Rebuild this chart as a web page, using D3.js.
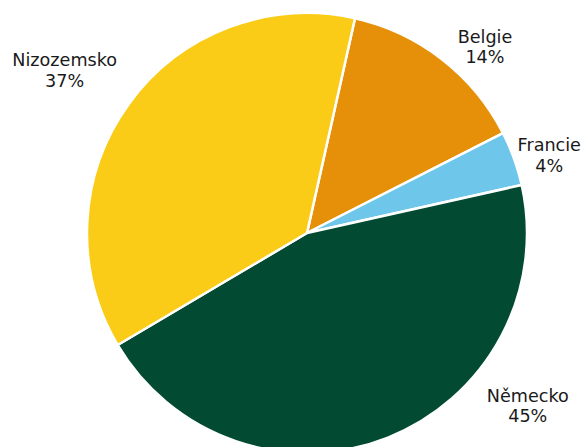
<!DOCTYPE html>
<html>
<head>
<meta charset="utf-8">
<script src="https://cdn.jsdelivr.net/npm/d3@7"></script>
<style>
  html, body { margin: 0; padding: 0; background: #fff; }
  svg text { font-family: "DejaVu Sans", Verdana, sans-serif; font-size: 17.6px; fill: #1a1a1a; }
</style>
</head>
<body>
<svg id="chart"></svg>
<script>
const countries = ['Belgie', 'Francie', 'Německo', 'Nizozemsko'];
const shares = [14, 4, 45, 37];
const colors = ['#E59008', '#6EC6EA', '#034A32', '#FBCC17'];

const width = 584;
const height = 447;
const cx = 307;
const cy = 233;
const radius = 220;

// where the labels sit: angle shift from slice middle (deg) and distance from centre
const labelShift = [5.6, 1.6, -30.7, -1.8];
const labelRadius = [259, 255, 279, 293];

const svg = d3.select('#chart')
  .attr('width', width)
  .attr('height', height);

const g = svg.append('g').attr('transform', `translate(${cx},${cy})`);

const pie = d3.pie()
  .sort(null)
  .value(d => d)
  .startAngle(12.6 * Math.PI / 180)
  .endAngle(12.6 * Math.PI / 180 + 2 * Math.PI);

const arcs = pie(shares);
const arc = d3.arc().innerRadius(0).outerRadius(radius);

g.selectAll('path')
  .data(arcs)
  .join('path')
  .attr('d', arc)
  .attr('fill', (d, i) => colors[i])
  .attr('stroke', '#fff')
  .attr('stroke-width', 2.5)
  .attr('stroke-linejoin', 'round');

const labels = g.selectAll('g.label')
  .data(arcs)
  .join('g')
  .attr('class', 'label')
  .attr('transform', (d, i) => {
    const a = (d.startAngle + d.endAngle) / 2 + labelShift[i] * Math.PI / 180;
    const r = labelRadius[i];
    return `translate(${r * Math.sin(a)},${-r * Math.cos(a)})`;
  });

labels.append('text')
  .attr('text-anchor', 'middle')
  .attr('y', -2)
  .text((d, i) => countries[i]);

labels.append('text')
  .attr('text-anchor', 'middle')
  .attr('y', 18.5)
  .text(d => d3.format('d')(d.value) + '%');
</script>
</body>
</html>
